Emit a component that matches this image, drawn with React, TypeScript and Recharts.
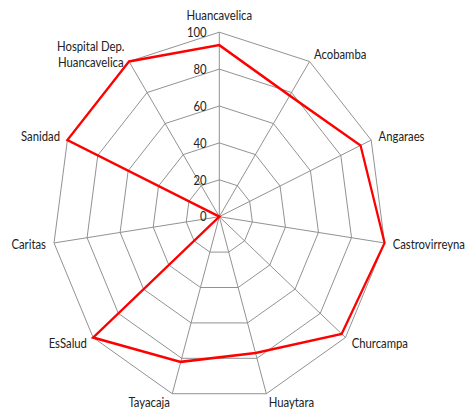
import React from 'react';
import {
  RadarChart,
  Radar,
  PolarGrid,
  PolarAngleAxis,
  PolarRadiusAxis,
} from 'recharts';

// categorias (eje angular), en sentido horario desde arriba
const categories = [
  'Huancavelica',
  'Acobamba',
  'Angaraes',
  'Castrovirreyna',
  'Churcampa',
  'Huaytara',
  'Tayacaja',
  'EsSalud',
  'Caritas',
  'Sanidad',
  'Hospital Dep.\nHuancavelica',
];

// valores (%)
const coverage = [93, 78, 93, 100, 97, 77, 82, 100, 0, 100, 100];

const radiusTicks = [0, 20, 40, 60, 80, 100];

const data = categories.map((name, i) => ({ name, value: coverage[i] }));

const FONT = 'Lato, "Open Sans", sans-serif';
const TEXT_COLOR = '#222222';
const GRID_COLOR = '#8c8c8c';
const SCALE_X = 0.905; // el original esta comprimido en horizontal
const W = 520;
const H = 410;

const AngleTick = (props: any) => {
  const { x, y, payload } = props;
  const rad = (payload.coordinate * Math.PI) / 180;
  const dirX = Math.cos(rad);
  const dirY = -Math.sin(rad);
  const anchor = dirX > 0.01 ? 'start' : dirX < -0.01 ? 'end' : 'middle';
  const lines = String(payload.value).split('\n');
  const lineH = 15.7;
  // etiqueta superior un poco mas alta
  const extra = anchor === 'middle' && dirY < 0 ? -8 : 0;

  if (lines.length > 1) {
    // bloque multilinea centrado (como en Excel)
    const maxLen = Math.max(...lines.map((l) => l.length));
    const half = maxLen * 12.5 * 0.23;
    const bx = dirX < 0 ? x - half : dirX > 0 ? x + half : x;
    return (
      <text
        fontFamily={FONT}
        fontSize={12.5}
        fill={TEXT_COLOR}
        textAnchor="middle"
        dominantBaseline="central"
      >
        {lines.map((l, i) => (
          <tspan key={l} x={bx} y={y + (i - (lines.length - 1) / 2) * lineH}>
            {l}
          </tspan>
        ))}
      </text>
    );
  }

  return (
    <text
      x={x}
      y={y + extra}
      fontFamily={FONT}
      fontSize={12.5}
      fill={TEXT_COLOR}
      textAnchor={anchor}
      dominantBaseline="central"
    >
      {payload.value}
    </text>
  );
};

const RadiusTick = (props: any) => {
  const { x, y, payload } = props;
  return (
    <text
      x={x - 14}
      y={y}
      fontFamily={FONT}
      fontSize={12.5}
      fill={TEXT_COLOR}
      textAnchor="end"
      dominantBaseline="central"
    >
      {payload.value}
    </text>
  );
};

export default function App() {
  return (
    <div
      style={{
        position: 'fixed',
        left: 0,
        top: 0,
        width: 470,
        height: 410,
        overflow: 'hidden',
        background: '#ffffff',
      }}
    >
      <div
        style={{
          width: W,
          height: H,
          transform: `scaleX(${SCALE_X})`,
          transformOrigin: '0 0',
        }}
      >
        <RadarChart
          width={W}
          height={H}
          data={data}
          cx={219.3 / SCALE_X}
          cy={216.7}
          outerRadius={184.5}
          margin={{ top: 0, right: 0, bottom: 0, left: 0 }}
        >
          <PolarGrid gridType="polygon" stroke={GRID_COLOR} strokeWidth={1} />
          <PolarAngleAxis
            dataKey="name"
            tick={<AngleTick />}
            tickLine={false}
            axisLine={false}
            tickSize={9}
          />
          <PolarRadiusAxis
            angle={90}
            domain={[0, 100]}
            ticks={radiusTicks as any}
            tickCount={6}
            axisLine={false}
            tick={<RadiusTick />}
          />
          <Radar
            dataKey="value"
            stroke="#ff0000"
            strokeWidth={2.5}
            fill="none"
            fillOpacity={0}
            dot={false}
            isAnimationActive={false}
          />
        </RadarChart>
      </div>
    </div>
  );
}
